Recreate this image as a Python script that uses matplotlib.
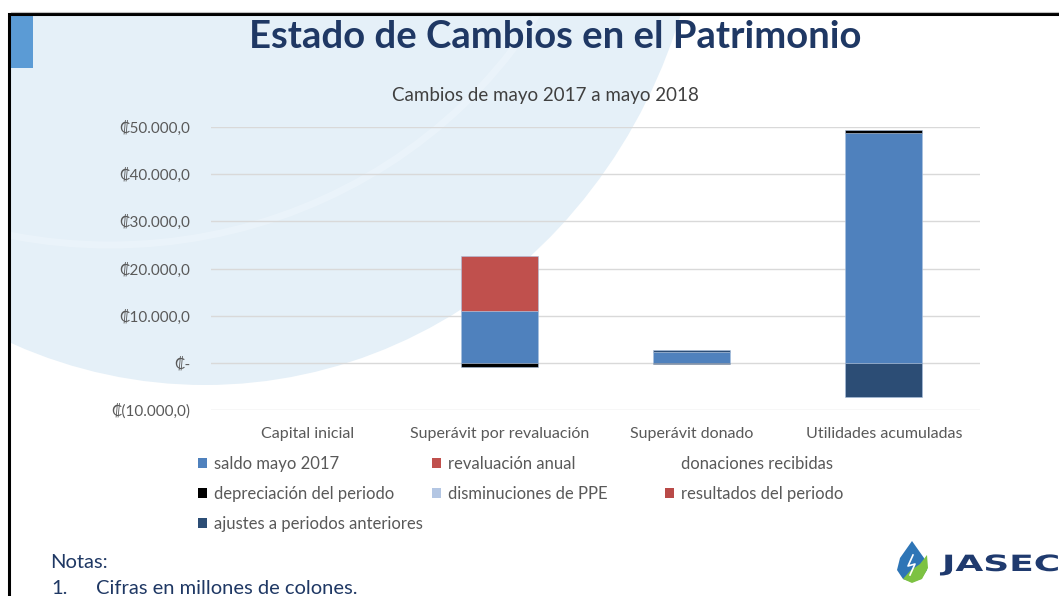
import numpy as np
import matplotlib
matplotlib.use("Agg")
import matplotlib.pyplot as plt
from matplotlib.patches import Ellipse, Rectangle, Patch, Polygon, PathPatch
from matplotlib.textpath import TextPath
from matplotlib.font_manager import FontProperties
from matplotlib.transforms import Affine2D

# Data (millones de colones)
categories = ["Capital inicial", "Superávit por revaluación", "Superávit donado", "Utilidades acumuladas"]
saldo_mayo_2017 = [0, 10900, 2400, 48700]
revaluacion_anual = [0, 11700, 0, 0]
donaciones_recibidas = [0, 0, 0, 0]
depreciacion_periodo = [0, -900, -300, 600]
disminuciones_ppe = [0, 0, 0, 0]
resultados_periodo = [0, 0, 0, 0]
ajustes_periodos = [0, 0, 400, -7200]

series = [
    ("saldo mayo 2017", saldo_mayo_2017, "#4F81BD"),
    ("revaluación anual", revaluacion_anual, "#C0504D"),
    ("donaciones recibidas", donaciones_recibidas, "none"),
    ("depreciación del periodo", depreciacion_periodo, "#000000"),
    ("disminuciones de PPE", disminuciones_ppe, "#B3C6E3"),
    ("resultados del periodo", resultados_periodo, "#B94A48"),
    ("ajustes a periodos anteriores", ajustes_periodos, "#2C4D75"),
]
yticks = [-10000, 0, 10000, 20000, 30000, 40000, 50000]
ytick_labels = ["₡(10.000,0)", "₡-", "₡10.000,0", "₡20.000,0", "₡30.000,0", "₡40.000,0", "₡50.000,0"]

FONT = ["Lato", "DejaVu Sans"]
plt.rcParams["font.family"] = FONT

W, H = 1059, 596
fig = plt.figure(figsize=(W / 100, H / 100), dpi=100)

def fx(x):
    return x / W

def fy(y):
    return 1 - y / H

# slide background (pixel coords)
bg = fig.add_axes([0, 0, 1, 1], zorder=-5)
bg.set_xlim(0, W)
bg.set_ylim(H, 0)
bg.axis("off")
bg.add_patch(Ellipse((205, -150), 1000, 1070, color="#E5F0F8", lw=0))
bg.add_patch(Ellipse((110, -235), 1000, 960, fill=False, ec="#EDF5FB", lw=5, alpha=0.7))
bg.add_patch(Rectangle((0, 0), W, 13, color="white", lw=0))
bg.add_patch(Rectangle((0, 0), 9, H, color="white", lw=0))
bg.plot([9, 9, W], [H, 14, 14], color="black", lw=2.2, solid_joinstyle="miter")
bg.plot([11, W], [12, 12], color="#BFBFBF", lw=0.8)
bg.add_patch(Rectangle((11, 16), 22, 52, color="#5B9BD5", lw=0))

# logo
bg.add_patch(Polygon([[912, 541], [900, 558], [897, 570], [903, 579], [912, 582], [921, 579], [927, 570], [924, 558]],
                     closed=True, color="#2E75B6", lw=0))
bg.add_patch(Polygon([[927, 555], [928, 568], [922, 579], [912, 583], [903, 579], [910, 571], [920, 564]],
                     closed=True, color="#7DC242", lw=0))
bg.plot([913, 908, 915, 910], [555, 566, 564, 575], color="white", lw=1.2)
tp = TextPath((0, 0), "JASEC", size=20, prop=FontProperties(family="DejaVu Sans", weight="bold"))
bg.add_patch(PathPatch(tp.transformed(Affine2D().scale(1.8, -1.12).translate(942, 571)),
                       color="#1F3A6E", lw=0))

# chart
ax = fig.add_axes([fx(211), fy(410), fx(980) - fx(211), fy(127) - fy(410)])
ax.set_facecolor("none")
x = np.arange(len(categories))
pos_bottom = np.zeros(len(categories))
neg_bottom = np.zeros(len(categories))
for name, vals, col in series:
    v = np.array(vals, dtype=float)
    bottom = np.where(v >= 0, pos_bottom, neg_bottom)
    keep = v != 0
    if col != "none" and keep.any():
        ax.bar(x[keep], v[keep], 0.4, bottom=bottom[keep], color=col, edgecolor="#A9C1E0",
               linewidth=0.4, zorder=3)
    pos_bottom += np.where(v > 0, v, 0)
    neg_bottom += np.where(v < 0, v, 0)

ax.set_xlim(-0.5, len(categories) - 0.5)
ax.set_ylim(-10000, 50000)
ax.set_yticks(yticks)
ax.set_yticklabels(ytick_labels)
ax.set_xticks(x)
ax.set_xticklabels(categories)
ax.grid(axis="y", color="#D9D9D9", lw=1, zorder=0)
ax.tick_params(length=0, labelsize=11, colors="#595959")
ax.tick_params(axis="x", labelsize=11.5, pad=12)
ax.tick_params(axis="y", pad=15)
for s in ax.spines.values():
    s.set_visible(False)

# legend in three columns (row-major like the original)
cols = [
    [series[0], series[3], series[6]],
    [series[1], series[4]],
    [series[2], series[5]],
]
col_x = [198, 432, 665]
for cx, entries in zip(col_x, cols):
    handles = [Patch(facecolor=c if c != "none" else "none", edgecolor="none") for _, _, c in entries]
    labels = [n for n, _, _ in entries]
    fig.legend(handles, labels, loc="upper left", bbox_to_anchor=(fx(cx), fy(456)), frameon=False,
               fontsize=12, labelcolor="#595959", handlelength=0.55, handleheight=0.55,
               handletextpad=0.4, labelspacing=0.85, borderaxespad=0, borderpad=0)

# texts
fig.text(fx(555), fy(37), "Estado de Cambios en el Patrimonio", ha="center", va="center",
         fontsize=27.5, fontweight="bold", color="#1F3864")
fig.text(fx(545), fy(96), "Cambios de mayo 2017 a mayo 2018", ha="center", va="center",
         fontsize=13.5, color="#404040")
fig.text(fx(50), fy(562), "Notas:", ha="left", va="center", fontsize=14.5, color="#1F3864")
fig.text(fx(51), fy(589), "1.", ha="left", va="center", fontsize=14.5, color="#1F3864")
fig.text(fx(96), fy(589), "Cifras en millones de colones.", ha="left", va="center", fontsize=14.5, color="#1F3864")

fig.savefig("out.png", dpi=100)
